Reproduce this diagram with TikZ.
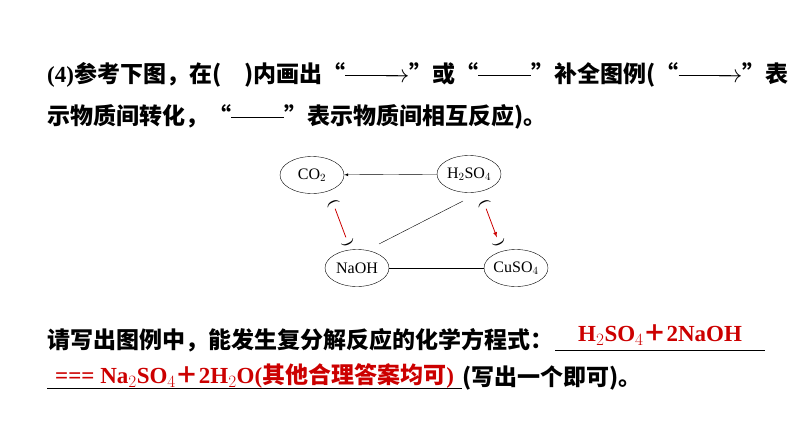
\documentclass[tikz,border=0pt]{standalone}
\usepackage{fontspec}
\setmainfont{Liberation Serif}
\newfontfamily\cjk{Noto Sans CJK SC}
\usetikzlibrary{positioning,shapes.geometric,calc}
\newcommand{\arr}{\rule[0.3em]{2.3em}{0.8pt}\kern-0.6em$\rightarrow$}
\newcommand{\lin}{\rule[0.3em]{2.3em}{0.8pt}}
\begin{document}
\begin{tikzpicture}[x=1pt,y=-1pt,
  sub/.style = {draw, ellipse, minimum width=64pt, minimum height=37pt, inner sep=0pt, font=\fontsize{16}{16}\selectfont},
  txt/.style = {anchor=west, inner sep=0pt, font=\fontsize{23}{23}\selectfont\bfseries\cjk},
  ans/.style = {txt, text=red!80!black},
  brk/.style = {font=\fontsize{15}{15}\selectfont}]
\useasboundingbox (0,0) rectangle (794,447);
\node[txt] (l1) at (47,75) {{\fontspec{Liberation Serif}\bfseries(4)}参考下图，在(\hspace{1em})内画出“\arr”或“\lin”补全图例(“\arr”表};
\node[txt] (l2) at (47,117) {示物质间转化，“\lin”表示物质间相互反应)。};
\node[sub] (co2) at (312,175) {CO$_2$};
\node[sub] (h2so4) at (469,174) {H$_2$SO$_4$};
\node[sub] (naoh) at (357,268) {NaOH};
\node[sub] (cuso4) at (516,268) {CuSO$_4$};
\draw[-latex] (h2so4) -- (co2);
\draw (naoh) -- (cuso4);
\coordinate (a) at (379,244);
\coordinate (b) at (463,201);
\draw (a) -- (b);
\node[brk, rotate=-65] (p1) at (333,203) {(};
\node[brk, rotate=-65] (p2) at (348,243) {)};
\node[brk, rotate=-65] (p3) at (484,203) {(};
\node[brk, rotate=-65] (p4) at (499,243) {)};
\draw[red!80!black, thick] (p1) -- (p2);
\draw[red!80!black, thick, -latex] (p3) -- (p4);
\node[txt] (l3) at (47,340) {请写出图例中，能发生复分解反应的化学方程式：};
\coordinate (u1) at (555,350);
\coordinate (u2) at (765,350);
\draw (u1) -- (u2);
\node[ans] (a1) at (578,335) {{\fontspec{Liberation Serif}\bfseries H$_2$SO$_4$}＋{\fontspec{Liberation Serif}\bfseries 2NaOH}};
\node[ans] (a2) at (55,376) {{\fontspec{Liberation Serif}\bfseries === Na$_2$SO$_4$}＋{\fontspec{Liberation Serif}\bfseries 2H$_2$O(}其他合理答案均可{\fontspec{Liberation Serif}\bfseries )}};
\coordinate (u3) at (47,388);
\coordinate (u4) at (462,388);
\draw (u3) -- (u4);
\node[txt] (l4) at (462,378) {(写出一个即可)。};
\end{tikzpicture}
\end{document}
